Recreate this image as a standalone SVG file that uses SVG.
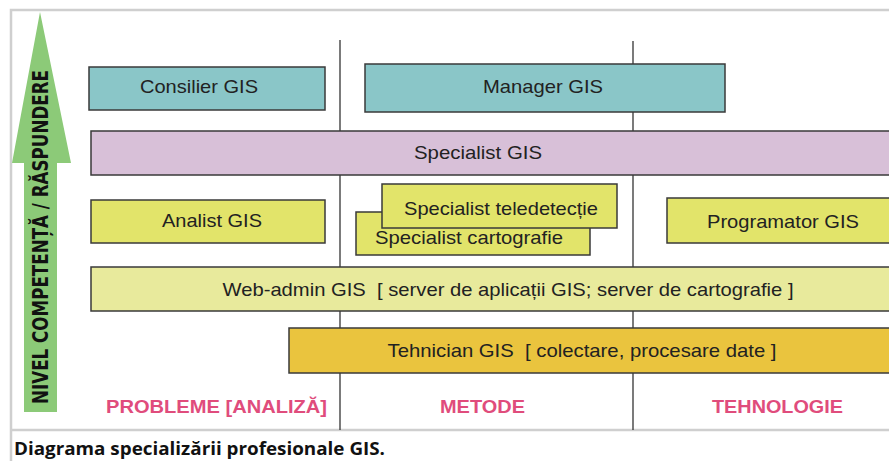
<svg xmlns="http://www.w3.org/2000/svg" width="889" height="461" viewBox="0 0 889 461">
<style>
.box{stroke:#3a3a3a;stroke-width:1.5}
.t{font-family:"Liberation Sans",Arial,sans-serif;font-size:18.5px;fill:#222;text-anchor:middle}
.cat{font-family:"Liberation Sans",Arial,sans-serif;font-size:18px;font-weight:bold;fill:#e04c7c}
.vl{stroke:#333;stroke-width:1.3}
</style>
<rect x="0" y="0" width="889" height="461" fill="#fff"/>
<g id="frame" fill="none" stroke="#cfcfcf" stroke-width="2.5">
<path d="M11,461 V10 H889"/>
<path d="M11,430 H889"/>
</g>
<g id="connectors">
<line class="vl" x1="340" y1="40" x2="340" y2="430"/>
<line class="vl" x1="633" y1="41" x2="633" y2="430"/>
</g>
<g id="arrow">
<polygon points="40,12 71,163 57,163 57,412 24,412 24,163 12,163" fill="#8cca78"/>
<text transform="translate(48,404) rotate(-90)" font-family="'DejaVu Sans Condensed','DejaVu Sans',sans-serif" font-weight="bold" font-size="22" fill="#111" textLength="334" lengthAdjust="spacingAndGlyphs">NIVEL COMPETENȚĂ / RĂSPUNDERE</text>
</g>
<g id="consilier"><rect class="box" x="89" y="67" width="236" height="43" fill="#8ac6c8"/><text class="t" x="199" y="93" textLength="118" lengthAdjust="spacingAndGlyphs">Consilier GIS</text></g>
<g id="manager"><rect class="box" x="365" y="64" width="360" height="48" fill="#8ac6c8"/><text class="t" x="543" y="93" textLength="120" lengthAdjust="spacingAndGlyphs">Manager GIS</text></g>
<g id="specialist"><rect class="box" x="91" y="131" width="810" height="44" fill="#d8c0d8"/><text class="t" x="478" y="159" textLength="128" lengthAdjust="spacingAndGlyphs">Specialist GIS</text></g>
<g id="analist"><rect class="box" x="91" y="200" width="234" height="43" fill="#e2e46a"/><text class="t" x="212" y="227" textLength="100" lengthAdjust="spacingAndGlyphs">Analist GIS</text></g>
<g id="cartografie"><rect class="box" x="356" y="212" width="234" height="43" fill="#e2e46a"/><text class="t" x="469" y="244" textLength="188" lengthAdjust="spacingAndGlyphs">Specialist cartografie</text></g>
<g id="teledetectie"><rect class="box" x="382" y="184" width="235" height="44" fill="#e2e46a"/><text class="t" x="501" y="215" textLength="194" lengthAdjust="spacingAndGlyphs">Specialist teledetecție</text></g>
<g id="programator"><rect class="box" x="667" y="198" width="240" height="45" fill="#e2e46a"/><text class="t" x="783" y="228" textLength="152" lengthAdjust="spacingAndGlyphs">Programator GIS</text></g>
<g id="webadmin"><rect class="box" x="91" y="267" width="810" height="44" fill="#e8ea9c"/><text class="t" x="508" y="296" textLength="571" lengthAdjust="spacingAndGlyphs" xml:space="preserve">Web-admin GIS  [ server de aplicații GIS; server de cartografie ]</text></g>
<g id="tehnician"><rect class="box" x="289" y="328" width="612" height="45" fill="#eac43e"/><text class="t" x="582" y="357" textLength="389" lengthAdjust="spacingAndGlyphs" xml:space="preserve">Tehnician GIS  [ colectare, procesare date ]</text></g>
<g id="labels">
<text class="cat" x="106" y="413" textLength="221" lengthAdjust="spacingAndGlyphs">PROBLEME [ANALIZĂ]</text>
<text class="cat" x="440" y="413" textLength="85" lengthAdjust="spacingAndGlyphs">METODE</text>
<text class="cat" x="712" y="413" textLength="131" lengthAdjust="spacingAndGlyphs">TEHNOLOGIE</text>
</g>
<text x="14" y="455" font-family="'Open Sans','DejaVu Sans',sans-serif" font-weight="bold" font-size="18.5" fill="#111" textLength="371" lengthAdjust="spacingAndGlyphs">Diagrama specializării profesionale GIS.</text>
</svg>
